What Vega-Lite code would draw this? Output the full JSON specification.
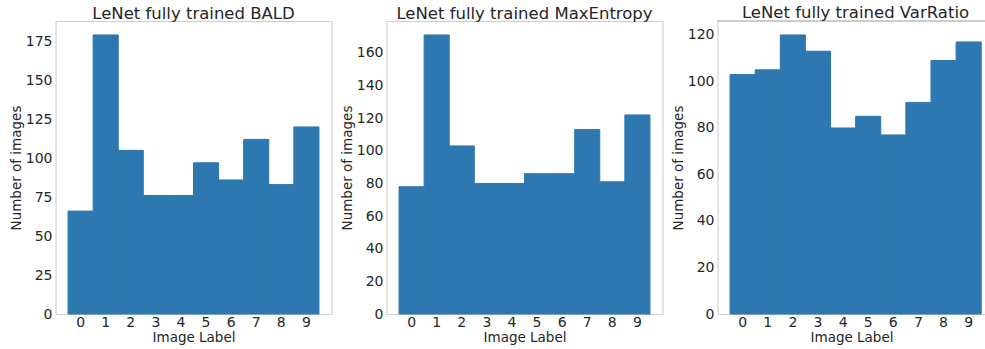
{
  "$schema": "https://vega.github.io/schema/vega-lite/v6.json",
  "background": "white",
  "padding": {"left": 8.5, "top": 5, "right": 0, "bottom": 0},
  "spacing": 7,
  "data": {
    "values": [
      {"method": "BALD", "label": 0, "count": 66},
      {"method": "BALD", "label": 1, "count": 179},
      {"method": "BALD", "label": 2, "count": 105},
      {"method": "BALD", "label": 3, "count": 76},
      {"method": "BALD", "label": 4, "count": 76},
      {"method": "BALD", "label": 5, "count": 97},
      {"method": "BALD", "label": 6, "count": 86},
      {"method": "BALD", "label": 7, "count": 112},
      {"method": "BALD", "label": 8, "count": 83},
      {"method": "BALD", "label": 9, "count": 120},
      {"method": "MaxEntropy", "label": 0, "count": 78},
      {"method": "MaxEntropy", "label": 1, "count": 171},
      {"method": "MaxEntropy", "label": 2, "count": 103},
      {"method": "MaxEntropy", "label": 3, "count": 80},
      {"method": "MaxEntropy", "label": 4, "count": 80},
      {"method": "MaxEntropy", "label": 5, "count": 86},
      {"method": "MaxEntropy", "label": 6, "count": 86},
      {"method": "MaxEntropy", "label": 7, "count": 113},
      {"method": "MaxEntropy", "label": 8, "count": 81},
      {"method": "MaxEntropy", "label": 9, "count": 122},
      {"method": "VarRatio", "label": 0, "count": 103},
      {"method": "VarRatio", "label": 1, "count": 105},
      {"method": "VarRatio", "label": 2, "count": 120},
      {"method": "VarRatio", "label": 3, "count": 113},
      {"method": "VarRatio", "label": 4, "count": 80},
      {"method": "VarRatio", "label": 5, "count": 85},
      {"method": "VarRatio", "label": 6, "count": 77},
      {"method": "VarRatio", "label": 7, "count": 91},
      {"method": "VarRatio", "label": 8, "count": 109},
      {"method": "VarRatio", "label": 9, "count": 117}
    ]
  },
  "hconcat": [
    {
      "title": {"text": "LeNet fully trained BALD"},
      "width": 276,
      "height": 293,
      "transform": [{"filter": "datum.method === 'BALD'"}],
      "mark": {"type": "bar", "color": "#2e78b1", "stroke": "#2e78b1", "strokeWidth": 1},
      "encoding": {
        "x": {"field": "label", "type": "ordinal", "title": "Image Label",
              "scale": {"paddingInner": 0, "paddingOuter": 0.5},
              "axis": {"labelAngle": 0}},
        "y": {"field": "count", "type": "quantitative", "title": "Number of images",
              "scale": {"domain": [0, 187.95], "nice": false},
              "axis": {"values": [0, 25, 50, 75, 100, 125, 150, 175]}}
      }
    },
    {
      "title": {"text": "LeNet fully trained MaxEntropy"},
      "width": 276,
      "height": 293,
      "transform": [{"filter": "datum.method === 'MaxEntropy'"}],
      "mark": {"type": "bar", "color": "#2e78b1", "stroke": "#2e78b1", "strokeWidth": 1},
      "encoding": {
        "x": {"field": "label", "type": "ordinal", "title": "Image Label",
              "scale": {"paddingInner": 0, "paddingOuter": 0.5},
              "axis": {"labelAngle": 0}},
        "y": {"field": "count", "type": "quantitative", "title": "Number of images",
              "scale": {"domain": [0, 179.55], "nice": false},
              "axis": {"values": [0, 20, 40, 60, 80, 100, 120, 140, 160]}}
      }
    },
    {
      "title": {"text": "LeNet fully trained VarRatio", "dx": 4},
      "width": 268,
      "height": 293,
      "view": {"stroke": null},
      "transform": [{"filter": "datum.method === 'VarRatio'"}],
      "layer": [
        {
          "mark": {"type": "bar", "color": "#2e78b1", "stroke": "#2e78b1", "strokeWidth": 1},
          "encoding": {
            "x": {"field": "label", "type": "ordinal", "title": "Image Label",
                  "scale": {"paddingInner": 0, "paddingOuter": 0.335, "align": 0.746},
                  "axis": {"labelAngle": 0, "domain": true}},
            "y": {"field": "count", "type": "quantitative", "title": "Number of images",
                  "scale": {"domain": [0, 126], "nice": false},
                  "axis": {"values": [0, 20, 40, 60, 80, 100, 120], "domain": true}}
          }
        },
        {
          "mark": {"type": "rule", "color": "#cccccc", "strokeWidth": 1},
          "encoding": {"y": {"datum": 126, "type": "quantitative"}}
        }
      ]
    }
  ],
  "config": {
    "font": "DejaVu Sans",
    "view": {"stroke": "#cccccc", "strokeWidth": 1},
    "axis": {
      "grid": false,
      "ticks": false,
      "tickSize": 0,
      "domain": false,
      "domainColor": "#cccccc",
      "domainWidth": 1,
      "labelFont": "DejaVu Sans",
      "labelFontSize": 14,
      "labelColor": "#262626",
      "titleFont": "DejaVu Sans",
      "titleFontSize": 13.5,
      "titleFontWeight": "normal",
      "titleColor": "#262626"
    },
    "axisY": {"labelPadding": 3.5, "titlePadding": 2},
    "axisX": {"labelPadding": 1, "titlePadding": 1.5},
    "title": {
      "font": "DejaVu Sans",
      "fontSize": 16.5,
      "fontWeight": "normal",
      "color": "#262626",
      "offset": -1,
      "anchor": "middle"
    }
  }
}
